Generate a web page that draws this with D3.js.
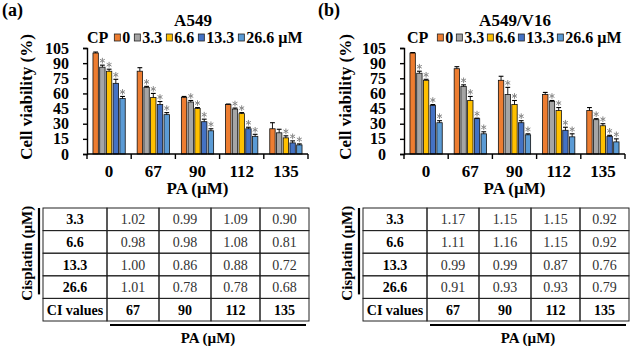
<!DOCTYPE html>
<html>
<head>
<meta charset="utf-8">
<script src="https://cdn.jsdelivr.net/npm/d3@7"></script>
<style>
body { margin: 0; background: #fff; }
svg text { font-family: "Liberation Serif", "Times New Roman", Times, "DejaVu Serif", serif; }
</style>
</head>
<body>
<div id="chart"></div>
<script>
// categorias
var paDoses = ["0", "67", "90", "112", "135"];
var cpDoses = ["0", "3.3", "6.6", "13.3", "26.6"];
var yTicks = [0, 15, 30, 45, 60, 75, 90, 105];

// viabilidade celular (%) - linhas = PA, colunas = CP
var a549Values = [
  [100, 86, 82, 70, 55],
  [82, 66, 56, 49, 39],
  [56, 51.5, 45, 32, 23],
  [49, 44.5, 40, 25, 17.5],
  [25, 21, 16, 11, 9]
];
var a549Errors = [
  [1, 2, 2, 4, 2],
  [3.5, 1, 4, 3, 2],
  [1, 1.5, 1, 2.5, 2],
  [0.5, 1, 1, 1.5, 2],
  [6, 3.5, 2, 2, 1]
];
var a549Stars = [
  [0, 1, 1, 1, 1],
  [0, 1, 1, 1, 1],
  [0, 1, 1, 1, 1],
  [0, 1, 1, 1, 1],
  [0, 0, 1, 1, 1]
];

var v16Values = [
  [100, 80, 73, 48, 31],
  [84.5, 67, 53, 35, 20],
  [73, 59, 49, 31, 19],
  [59, 52, 43, 23.5, 17],
  [43, 34, 28, 17.5, 12]
];
var v16Errors = [
  [0.5, 2, 1, 1, 2],
  [2, 1.5, 4, 0.5, 2],
  [4, 7, 4, 2, 1],
  [2, 1, 3, 3, 3],
  [3, 1, 2, 1, 3]
];
var v16Stars = [
  [0, 1, 1, 1, 1],
  [0, 1, 1, 1, 1],
  [0, 1, 1, 1, 1],
  [0, 1, 1, 1, 1],
  [0, 1, 1, 1, 1]
];

// tabela CI
var ciHeader = ["CI values", "67", "90", "112", "135"];
var ciRows = ["3.3", "6.6", "13.3", "26.6"];
var a549CI = [
  ["1.02", "0.99", "1.09", "0.90"],
  ["0.98", "0.98", "1.08", "0.81"],
  ["1.00", "0.86", "0.88", "0.72"],
  ["1.01", "0.78", "0.78", "0.68"]
];
var v16CI = [
  ["1.17", "1.15", "1.15", "0.92"],
  ["1.11", "1.16", "1.15", "0.92"],
  ["0.99", "0.99", "0.87", "0.76"],
  ["0.91", "0.93", "0.93", "0.79"]
];

var barColors = ["#ED7D31", "#A5A5A5", "#FFC000", "#4472C4", "#5B9BD5"];
var serif = "'Liberation Serif', 'Times New Roman', Times, 'DejaVu Serif', serif";

var svg = d3.select("#chart")
            .append("svg")
            .attr("width", 630)
            .attr("height", 348)
            .style("font-family", serif);

var star = d3.symbol().type(d3.symbolAsterisk).size(22);

function drawPanel(cfg) {
    var g = svg.append("g");

    var y = d3.scaleLinear().domain([0, 105]).range([154, 48]);
    var x0 = d3.scaleBand()
               .domain(paDoses)
               .range([cfg.axisX0, cfg.axisX1])
               .paddingInner(0.27)
               .paddingOuter(0.135);
    var x1 = d3.scaleBand()
               .domain(cpDoses)
               .range([0, x0.bandwidth()])
               .paddingInner(0.2);

    // letra do painel e titulo
    g.append("text")
     .attr("x", cfg.tagX).attr("y", 16)
     .style("font-size", "18px").style("font-weight", "bold")
     .text(cfg.tag);

    g.append("text")
     .attr("x", cfg.titleX).attr("y", 26)
     .attr("text-anchor", "middle")
     .style("font-size", "17px").style("font-weight", "bold")
     .text(cfg.title);

    // legenda
    var lx = cfg.legendX;
    var cp = g.append("text")
              .attr("x", lx).attr("y", 43)
              .style("font-size", "16px").style("font-weight", "bold")
              .text("CP");
    lx += cp.node().getComputedTextLength() + cfg.legendGap;
    cpDoses.forEach(function(d, i) {
        g.append("rect")
         .attr("x", lx).attr("y", 34)
         .attr("width", 6).attr("height", 7)
         .attr("fill", barColors[i])
         .attr("stroke", "#222").attr("stroke-width", 0.8);
        lx += 8;
        var t = g.append("text")
                 .attr("x", lx).attr("y", 43)
                 .style("font-size", "16px").style("font-weight", "bold")
                 .text(i == cpDoses.length - 1 ? d + " \u00b5M" : d);
        lx += t.node().getComputedTextLength() + cfg.itemGap;
    });

    // barras
    var groups = g.selectAll(".grp")
                  .data(cfg.values)
                  .enter()
                  .append("g")
                  .attr("transform", function(d, i) { return "translate(" + x0(paDoses[i]) + ",0)"; });

    groups.selectAll("rect")
          .data(function(d) { return d; })
          .enter()
          .append("rect")
          .attr("x", function(d, j) { return x1(cpDoses[j]); })
          .attr("y", function(d) { return y(d); })
          .attr("width", x1.bandwidth())
          .attr("height", function(d) { return y(0) - y(d); })
          .attr("fill", function(d, j) { return barColors[j]; })
          .attr("stroke", "#111")
          .attr("stroke-width", 0.8);

    // barras de erro e asteriscos
    cfg.values.forEach(function(row, i) {
        row.forEach(function(v, j) {
            var cx = x0(paDoses[i]) + x1(cpDoses[j]) + x1.bandwidth() / 2;
            var top = y(v + cfg.errors[i][j]);
            g.append("line")
             .attr("x1", cx).attr("x2", cx)
             .attr("y1", y(v)).attr("y2", top)
             .attr("stroke", "#000").attr("stroke-width", 0.9);
            g.append("line")
             .attr("x1", cx - 2.4).attr("x2", cx + 2.4)
             .attr("y1", top).attr("y2", top)
             .attr("stroke", "#000").attr("stroke-width", 1.1);
            if (cfg.stars[i][j]) {
                g.append("path")
                 .attr("d", star)
                 .attr("transform", "translate(" + cx + "," + (top - 4.5) + ")")
                 .attr("fill", "none")
                 .attr("stroke", "#888")
                 .attr("stroke-width", 1);
            }
        });
    });

    // eixo y
    var yAxis = g.append("g")
                 .attr("transform", "translate(" + cfg.axisX0 + ",0)")
                 .call(d3.axisLeft(y).tickValues(yTicks).tickSize(4).tickPadding(14));
    yAxis.selectAll("text")
         .style("font-size", "16px").style("font-weight", "bold")
         .style("font-family", serif);
    yAxis.selectAll("path, line").attr("stroke", "#000").attr("stroke-width", 1.4);

    // eixo x (rotulos no centro, marcas entre grupos)
    var xAxis = g.append("g")
                 .attr("transform", "translate(0," + y(0) + ")")
                 .call(d3.axisBottom(x0).tickSize(0).tickPadding(11));
    xAxis.select(".domain").remove();
    xAxis.selectAll("text")
         .style("font-size", "17px").style("font-weight", "bold")
         .style("font-family", serif);

    g.append("line")
     .attr("x1", cfg.axisX0).attr("x2", cfg.axisX1)
     .attr("y1", y(0)).attr("y2", y(0))
     .attr("stroke", "#000").attr("stroke-width", 1.4);
    d3.range(paDoses.length + 1).forEach(function(k) {
        var bx = cfg.axisX0 + k * x0.step();
        g.append("line")
         .attr("x1", bx).attr("x2", bx)
         .attr("y1", y(0)).attr("y2", y(0) + 5)
         .attr("stroke", "#000").attr("stroke-width", 1.4);
    });

    // rotulos dos eixos
    g.append("text")
     .attr("x", (cfg.axisX0 + cfg.axisX1) / 2).attr("y", 194)
     .attr("text-anchor", "middle")
     .style("font-size", "17px").style("font-weight", "bold")
     .text("PA (\u00b5M)");

    g.append("text")
     .attr("transform", "translate(" + cfg.ylabX + ",97) rotate(-90)")
     .attr("text-anchor", "middle")
     .style("font-size", "17px").style("font-weight", "bold")
     .text("Cell viability (%)");
}

function drawTable(cfg) {
    var g = svg.append("g");
    var colW = [64, 52, 52, 49, 49];
    var colX = [cfg.x];
    colW.forEach(function(w, i) { colX.push(colX[i] + w); });
    var rowY = d3.scaleLinear().domain([0, 5]).range([208, 321]);

    var rows = ciRows.map(function(r, i) { return [r].concat(cfg.ci[i]); });
    rows.push(ciHeader);

    rows.forEach(function(row, i) {
        row.forEach(function(cell, j) {
            var strong = j == 0 || i == rows.length - 1;
            g.append("rect")
             .attr("x", colX[j]).attr("y", rowY(i))
             .attr("width", colW[j]).attr("height", rowY(i + 1) - rowY(i))
             .attr("fill", "none")
             .attr("stroke", "#222").attr("stroke-width", 1);
            g.append("text")
             .attr("x", colX[j] + colW[j] / 2)
             .attr("y", (rowY(i) + rowY(i + 1)) / 2 + 5)
             .attr("text-anchor", "middle")
             .attr("fill", strong ? "#000" : "#333")
             .style("font-size", "14px")
             .style("font-weight", strong ? "bold" : "normal")
             .text(cell);
        });
    });

    // linha vertical da cisplatina
    g.append("line")
     .attr("x1", cfg.x - 4).attr("x2", cfg.x - 4)
     .attr("y1", rowY(0)).attr("y2", rowY(4) - 4)
     .attr("stroke", "#000").attr("stroke-width", 2.2);
    g.append("text")
     .attr("transform", "translate(" + (cfg.x - 11) + "," + ((rowY(0) + rowY(4)) / 2) + ") rotate(-90)")
     .attr("text-anchor", "middle")
     .style("font-size", "15px").style("font-weight", "bold")
     .text("Cisplatin (\u00b5M)");

    // linha horizontal do PA
    var hx0 = colX[1] + 3, hx1 = colX[5] - 3;
    g.append("line")
     .attr("x1", hx0).attr("x2", hx1)
     .attr("y1", 325).attr("y2", 325)
     .attr("stroke", "#000").attr("stroke-width", 2.2);
    g.append("text")
     .attr("x", (hx0 + hx1) / 2).attr("y", 343)
     .attr("text-anchor", "middle")
     .style("font-size", "15px").style("font-weight", "bold")
     .text("PA (\u00b5M)");
}

drawPanel({ tag: "(a)", tagX: 2, title: "A549", titleX: 193, axisX0: 87, axisX1: 308,
            legendX: 87, legendGap: 6, itemGap: 4, ylabX: 32,
            values: a549Values, errors: a549Errors, stars: a549Stars });
drawPanel({ tag: "(b)", tagX: 318, title: "A549/V16", titleX: 515, axisX0: 404, axisX1: 625,
            legendX: 407, legendGap: 9, itemGap: 3, ylabX: 351,
            values: v16Values, errors: v16Errors, stars: v16Stars });

drawTable({ x: 43, ci: a549CI });
drawTable({ x: 363, ci: v16CI });
</script>
</body>
</html>
